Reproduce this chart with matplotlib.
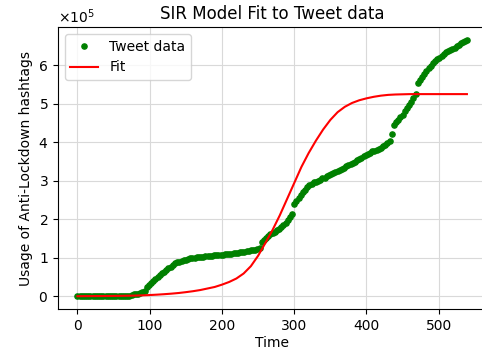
import numpy as np
import matplotlib
matplotlib.use("Agg")
import matplotlib.pyplot as plt

# Tweet data (every 3rd day plus the last day), usage in units of 1e5
tweet_days = list(range(0, 540, 3)) + [539]
tweet_usage_e5 = [
    0.00, 0.00, 0.00, 0.00, 0.00, 0.00, 0.00, 0.00, 0.00, 0.00,   # 0-27
    0.00, 0.01, 0.01, 0.01, 0.01, 0.01, 0.01, 0.01, 0.01, 0.01,   # 30-57
    0.01, 0.01, 0.01, 0.01, 0.01, 0.03, 0.05, 0.06, 0.07, 0.08,   # 60-87
    0.10, 0.13, 0.25, 0.30, 0.35, 0.40, 0.45, 0.50, 0.55, 0.60,   # 90-117
    0.64, 0.69, 0.73, 0.77, 0.81, 0.85, 0.88, 0.90, 0.92, 0.94,   # 120-147
    0.95, 0.97, 0.98, 0.99, 1.00, 1.01, 1.02, 1.02, 1.03, 1.04,   # 150-177
    1.04, 1.05, 1.05, 1.06, 1.07, 1.07, 1.08, 1.08, 1.09, 1.09,   # 180-207
    1.10, 1.10, 1.11, 1.12, 1.13, 1.14, 1.15, 1.16, 1.17, 1.18,   # 210-237
    1.19, 1.20, 1.21, 1.22, 1.24, 1.40, 1.47, 1.52, 1.57, 1.61,   # 240-267
    1.64, 1.67, 1.71, 1.75, 1.79, 1.84, 1.89, 1.97, 2.06, 2.14,   # 270-297
    2.40, 2.47, 2.55, 2.62, 2.70, 2.77, 2.83, 2.88, 2.92, 2.96,   # 300-327
    2.97, 3.00, 3.03, 3.06, 3.08, 3.11, 3.14, 3.17, 3.20, 3.23,   # 330-357
    3.25, 3.28, 3.31, 3.34, 3.37, 3.40, 3.43, 3.46, 3.49, 3.53,   # 360-387
    3.56, 3.60, 3.63, 3.67, 3.70, 3.73, 3.76, 3.78, 3.80, 3.83,   # 390-417
    3.86, 3.89, 3.93, 3.97, 4.04, 4.22, 4.45, 4.52, 4.58, 4.65,   # 420-447
    4.72, 4.80, 4.88, 4.96, 5.05, 5.14, 5.25, 5.55, 5.62, 5.70,   # 450-477
    5.78, 5.85, 5.92, 5.99, 6.06, 6.10, 6.15, 6.20, 6.25, 6.30,   # 480-507
    6.34, 6.37, 6.40, 6.43, 6.46, 6.49, 6.53, 6.57, 6.60, 6.64,   # 510-537
    6.66,                                                         # 539
]

# SIR fit curve, in units of 1e5
fit_days = [0, 10, 20, 30, 40, 50, 60, 70, 80, 90, 100, 110, 120, 130, 140,
            150, 160, 170, 180, 190, 200, 210, 220, 230, 240, 250, 260, 270,
            280, 290, 300, 310, 320, 330, 340, 350, 360, 370, 380, 390, 400,
            410, 420, 430, 440, 450, 460, 480, 500, 520, 539]
fit_e5 = [0.000, 0.002, 0.003, 0.004, 0.005, 0.007, 0.009, 0.012, 0.016, 0.022,
          0.030, 0.040, 0.052, 0.066, 0.083, 0.105, 0.13, 0.16, 0.20, 0.24,
          0.30, 0.37, 0.46, 0.59, 0.78, 1.05, 1.38, 1.72, 2.10, 2.52,
          2.94, 3.36, 3.72, 4.04, 4.33, 4.58, 4.78, 4.92, 5.02, 5.09,
          5.14, 5.18, 5.21, 5.23, 5.24, 5.245, 5.25, 5.25, 5.25, 5.25, 5.25]

tweet_usage = np.array(tweet_usage_e5) * 1e5
fit_vals = np.array(fit_e5) * 1e5

fig = plt.figure(figsize=(4.82, 3.5), dpi=100)
ax = fig.add_axes([0.1203, 0.1171, 0.8888, 0.8057])

ax.plot(tweet_days, tweet_usage, 'g.', markersize=7.5, label='Tweet data')
ax.plot(fit_days, fit_vals, 'r-', linewidth=1.5, label='Fit')

ax.set_title('SIR Model Fit to Tweet data')
ax.set_xlabel('Time', labelpad=2)
ax.set_ylabel('Usage of Anti-Lockdown hashtags')
ax.ticklabel_format(axis='y', style='sci', scilimits=(0, 0), useMathText=True)
ax.grid(True, color='#d9d9d9', linewidth=0.8)
ax.set_axisbelow(True)
ax.legend(loc='upper left')

fig.savefig('out.png', dpi=100)
